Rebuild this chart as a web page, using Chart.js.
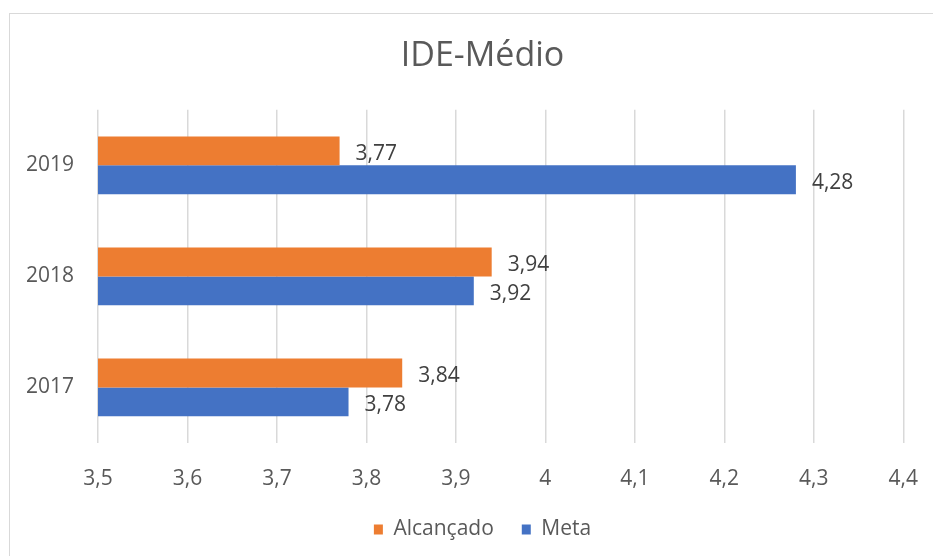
<!DOCTYPE html>
<html>
<head>
<meta charset="utf-8">
<script src="https://cdn.jsdelivr.net/npm/chart.js@4/dist/chart.umd.min.js"></script>
<style>
  html, body { margin: 0; padding: 0; background: #fff; }
  #wrap { position: relative; width: 933px; height: 556px; overflow: hidden; }
  #frame { position: absolute; left: 9px; top: 13px; width: 1000px; height: 1000px;
           border-left: 1px solid #d9d9d9; border-top: 1px solid #d9d9d9; }
  #chart { position: absolute; left: 0; top: 0; }
</style>
</head>
<body>
<div id="wrap">
  <div id="frame"></div>
  <canvas id="chart" width="933" height="556"></canvas>
</div>
<script>
var years = ['2019', '2018', '2017'];
var alcancado = [3.77, 3.94, 3.84];
var meta = [4.28, 3.92, 3.78];
var xTicksMin = 3.5;
var xTicksMax = 4.4;

function fmt(v) {
  return String(Math.round(v * 100) / 100).replace('.', ',');
}

// draws the value next to the end of every bar
var barLabels = {
  id: 'barLabels',
  afterDatasetsDraw: function(chart) {
    var ctx = chart.ctx;
    ctx.save();
    ctx.font = '21px "Open Sans"';
    ctx.fillStyle = '#404040';
    ctx.textAlign = 'left';
    ctx.textBaseline = 'middle';
    chart.data.datasets.forEach(function(ds, i) {
      chart.getDatasetMeta(i).data.forEach(function(bar, j) {
        ctx.fillText(fmt(ds.data[j]), bar.x + 16, bar.y + 3);
      });
    });
    ctx.restore();
  }
};

// title and legend sit a bit right of the canvas middle, like the original
var centerShift = {
  id: 'centerShift',
  afterLayout: function(chart) {
    [chart.titleBlock, chart.legend].forEach(function(box) {
      box.left += 16;
      box.right += 16;
    });
  }
};

var ctx = document.getElementById('chart').getContext('2d');
var myBarChart = new Chart(ctx, {
  type: 'bar',
  data: {
    labels: years,
    datasets: [{
      label: 'Alcançado',
      data: alcancado,
      backgroundColor: '#ED7D31'
    }, {
      label: 'Meta',
      data: meta,
      backgroundColor: '#4472C4'
    }]
  },
  options: {
    indexAxis: 'y',
    responsive: false,
    animation: false,
    categoryPercentage: 0.52,
    barPercentage: 1.0,
    layout: { padding: { left: 9, right: 9, top: 0, bottom: 6 } },
    scales: {
      x: {
        min: xTicksMin,
        max: xTicksMax,
        ticks: {
          stepSize: 0.1,
          color: '#595959',
          font: { family: 'Open Sans', size: 21 },
          padding: 15,
          callback: function(v) { return fmt(v); }
        },
        grid: { color: '#d9d9d9', lineWidth: 1.5, tickLength: 8, tickColor: 'rgba(0,0,0,0)' },
        border: { display: false },
        afterFit: function(scale) { scale.height = 48; }
      },
      y: {
        ticks: {
          color: '#595959',
          font: { family: 'Open Sans', size: 21 },
          padding: 24
        },
        grid: { display: false, drawTicks: false },
        border: { display: false },
        afterFit: function(scale) { scale.width = 89; }
      }
    },
    plugins: {
      title: {
        display: true,
        text: 'IDE-Médio',
        color: '#595959',
        font: { family: 'Open Sans', size: 34, weight: 'normal' },
        padding: { top: 36, bottom: 33 }
      },
      legend: {
        position: 'bottom',
        labels: {
          color: '#595959',
          font: { family: 'Open Sans', size: 21 },
          boxWidth: 9,
          boxHeight: 10,
          padding: 28
        }
      },
      tooltip: { enabled: false }
    }
  },
  plugins: [barLabels, centerShift]
});
</script>
</body>
</html>
